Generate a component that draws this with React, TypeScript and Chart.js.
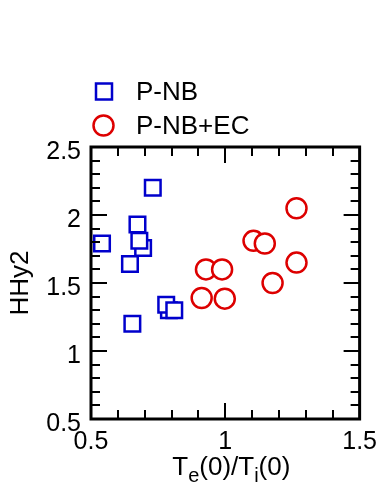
import React, { useEffect, useRef } from 'react';
import { Chart, registerables } from 'chart.js';

Chart.register(...registerables);

// Data (drawing order matters: markers are white-filled)
const pnbLabel = 'P-NB';
const pnbX = [0.79, 0.78, 0.81, 0.694, 0.68, 0.673, 0.541, 0.645, 0.73, 0.654];
const pnbY = [1.30, 1.34, 1.30, 1.757, 1.81, 1.93, 1.79, 1.64, 2.20, 1.20];

const ecLabel = 'P-NB+EC';
const ecX = [0.928, 0.988, 0.912, 0.998, 1.105, 1.147, 1.176, 1.265, 1.265];
const ecY = [1.60, 1.60, 1.39, 1.385, 1.81, 1.79, 1.50, 1.65, 2.05];

const xTickValues = [0.5, 1, 1.5];
const xTickLabels = ['0.5', '1', '1.5'];
const yTickValues = [0.5, 1, 1.5, 2, 2.5];
const yTickLabels = ['0.5', '1', '1.5', '2', '2.5'];
const xMinorTicks = [0.6, 0.7, 0.8, 0.9, 1.1, 1.2, 1.3, 1.4];
const yMinorTicks = [0.6, 0.7, 0.8, 0.9, 1.1, 1.2, 1.3, 1.4, 1.6, 1.7, 1.8, 1.9, 2.1, 2.2, 2.3, 2.4];

const yTitle = 'HHy2';

const BLUE = 'rgb(0,0,204)';
const RED = 'rgb(221,0,0)';
const FONT = 'Liberation Sans';

const framePlugin = {
  id: 'frameTicks',
  afterDatasetsDraw(chart: any) {
    const { ctx, chartArea: a, scales } = chart;
    const xs = scales.x, ys = scales.y;
    ctx.save();
    ctx.strokeStyle = '#000';
    ctx.lineCap = 'butt';
    ctx.lineWidth = 2;
    const drawX = (v: number, len: number) => {
      const px = Math.round(xs.getPixelForValue(v));
      ctx.beginPath();
      ctx.moveTo(px, a.bottom); ctx.lineTo(px, a.bottom - len);
      ctx.moveTo(px, a.top); ctx.lineTo(px, a.top + len);
      ctx.stroke();
    };
    const drawY = (v: number, len: number) => {
      const py = Math.round(ys.getPixelForValue(v));
      ctx.beginPath();
      ctx.moveTo(a.left, py); ctx.lineTo(a.left + len, py);
      ctx.moveTo(a.right, py); ctx.lineTo(a.right - len, py);
      ctx.stroke();
    };
    xTickValues.forEach(v => drawX(v, 16));
    xMinorTicks.forEach(v => drawX(v, 9));
    yTickValues.forEach(v => drawY(v, 16));
    yMinorTicks.forEach(v => drawY(v, 9));
    ctx.lineWidth = 3;
    ctx.strokeRect(a.left, a.top, a.right - a.left, a.bottom - a.top);
    ctx.restore();
  },
  afterDraw(chart: any) {
    const { ctx, chartArea: a } = chart;
    ctx.save();
    const ds = chart.data.datasets;
    ctx.font = `26px "${FONT}"`;
    ctx.fillStyle = '#000';
    ctx.textBaseline = 'middle';
    ctx.textAlign = 'left';
    ctx.lineWidth = 2.5;
    ctx.strokeStyle = ds[0].borderColor;
    ctx.strokeRect(104 - 8, 91.5 - 8, 16, 16);
    ctx.fillText(ds[0].label, 136, 93);
    ctx.strokeStyle = ds[1].borderColor;
    ctx.beginPath();
    ctx.arc(103.5, 125.5, 10, 0, Math.PI * 2);
    ctx.stroke();
    ctx.fillText(ds[1].label, 136, 127);

    const parts: [string, boolean][] = [['T', false], ['e', true], ['(0)/T', false], ['i', true], ['(0)', false]];
    const big = `26px "${FONT}"`, small = `20px "${FONT}"`;
    let w = 0;
    parts.forEach(([t, sub]) => { ctx.font = sub ? small : big; w += ctx.measureText(t).width; });
    let x = (a.left + a.right) / 2 + 6 - w / 2;
    const base = 475;
    ctx.textBaseline = 'alphabetic';
    parts.forEach(([t, sub]) => {
      ctx.font = sub ? small : big;
      ctx.fillText(t, x, sub ? base + 7 : base);
      x += ctx.measureText(t).width;
    });
    ctx.restore();
  },
};

export default function App() {
  const ref = useRef<HTMLCanvasElement | null>(null);
  useEffect(() => {
    if (!ref.current) return;
    Chart.defaults.font.family = FONT;
    Chart.defaults.color = '#000';
    const chart = new Chart(ref.current, {
      type: 'scatter',
      data: {
        datasets: [
          {
            label: pnbLabel,
            data: pnbX.map((x, i) => ({ x, y: pnbY[i] })),
            pointStyle: 'rect',
            pointRadius: 11,
            pointBorderWidth: 2.5,
            borderColor: BLUE,
            backgroundColor: '#fff',
          },
          {
            label: ecLabel,
            data: ecX.map((x, i) => ({ x, y: ecY[i] })),
            pointStyle: 'circle',
            pointRadius: 10,
            pointBorderWidth: 2.5,
            borderColor: RED,
            backgroundColor: '#fff',
          },
        ],
      },
      options: {
        animation: false,
        responsive: true,
        maintainAspectRatio: false,
        layout: { padding: { top: 147, right: 23, left: 0, bottom: 0 } },
        plugins: { legend: { display: false }, tooltip: { enabled: false } },
        scales: {
          x: {
            type: 'linear',
            min: 0.5,
            max: 1.5,
            afterBuildTicks: (s: any) => { s.ticks = xTickValues.map(v => ({ value: v })); },
            afterFit: (s: any) => { s.height = 73; },
            grid: { display: false, drawTicks: false },
            border: { display: false },
            ticks: {
              font: { size: 25 },
              padding: 8,
              maxRotation: 0,
              callback: (v: any) => xTickLabels[xTickValues.indexOf(Number(v))] ?? '',
            },
          },
          y: {
            type: 'linear',
            min: 0.5,
            max: 2.5,
            afterBuildTicks: (s: any) => { s.ticks = yTickValues.map(v => ({ value: v })); },
            afterFit: (s: any) => { s.width = 91; },
            grid: { display: false, drawTicks: false },
            border: { display: false },
            ticks: {
              font: { size: 25 },
              padding: 10,
              labelOffset: 5,
              callback: (v: any) => yTickLabels[yTickValues.indexOf(Number(v))] ?? '',
            },
            title: {
              display: true,
              text: yTitle,
              font: { size: 26 },
              padding: { top: 5, bottom: 0 },
            },
          },
        },
      },
      plugins: [framePlugin],
    } as any);
    return () => chart.destroy();
  }, []);
  return (
    <div style={{ position: 'fixed', left: 0, top: 0, width: 385, height: 492, background: '#fff' }}>
      <canvas ref={ref} />
    </div>
  );
}
